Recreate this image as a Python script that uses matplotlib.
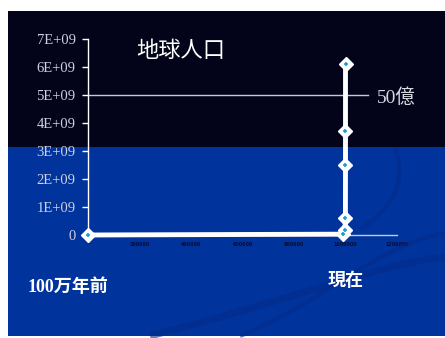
import matplotlib.pyplot as plt
from matplotlib.patches import Rectangle, PathPatch
from matplotlib.path import Path

# data: years since 1 million years ago vs. world population
years = [0, 990000, 998000, 999700, 999950, 999970, 1000000]
population = [0, 3e7, 1.8e8, 6e8, 2.5e9, 3.7e9, 6.1e9]
y_ticks = [0, 1e9, 2e9, 3e9, 4e9, 5e9, 6e9, 7e9]
y_labels = ['0', '1E+09', '2E+09', '3E+09', '4E+09', '5E+09', '6E+09', '7E+09']
x_ticks = [200000, 400000, 600000, 800000, 1000000, 1200000]
x_labels = ['200000', '400000', '600000', '800000', '1000000', '1200000']
ref_level = 5e9

cjk = ['Noto Sans CJK JP', 'DejaVu Sans']
serif_cjk = ['Liberation Serif', 'Noto Sans CJK JP']

fig = plt.figure(figsize=(4.45, 3.38), dpi=100)
fig.patch.set_facecolor('white')

# slide background
W, H = 445, 338
fig.add_artist(Rectangle((8 / W, 2 / H), 1 - 8 / W, (H - 147 - 2) / H, transform=fig.transFigure,
                         facecolor='#00339c', edgecolor='none', zorder=0))
fig.add_artist(Rectangle((8 / W, 1 - 147 / H), 1 - 8 / W, (147 - 11) / H, transform=fig.transFigure,
                         facecolor='#03031a', edgecolor='none', zorder=0))

# faint swooshes
for verts, lw in [([(150 / W, 2 / H), (300 / W, 0.12), (380 / W, 0.22), (445 / W, 0.24)], 5),
                  ([(360 / W, 0.32), (400 / W, 0.40), (405 / W, 0.48), (395 / W, 0.56)], 3),
                  ([(240 / W, 2 / H), (320 / W, 0.10), (380 / W, 0.28), (445 / W, 0.31)], 3)]:
    p = Path(verts, [Path.MOVETO, Path.CURVE4, Path.CURVE4, Path.CURVE4])
    fig.add_artist(PathPatch(p, transform=fig.transFigure, facecolor='none',
                             edgecolor='#022b88', lw=lw, alpha=0.6, zorder=0.5))

ax = fig.add_axes([88 / W, 1 - 235 / H, (397 - 88) / W, (235 - 39) / H])
ax.set_facecolor('none')
ax.set_xlim(0, 1200000)
ax.set_ylim(0, 7e9)

ax.axhline(ref_level, xmin=0, xmax=1087000 / 1200000, color='#c8c8d8', lw=1, zorder=1)

ax.plot(years, population, color='white', lw=3.5, marker='D', markersize=7,
        markerfacecolor='white', markeredgecolor='white', clip_on=False, zorder=3)
ax.plot(years, population, linestyle='none', marker='+', markersize=3,
        color='#1aa0d8', mew=1.2, clip_on=False, zorder=4)

ax.set_yticks(y_ticks)
ax.set_yticklabels(y_labels, fontfamily='Liberation Serif', fontsize=10.5, color='#d0d0e0')
ax.set_xticks(x_ticks)
ax.set_xticklabels(x_labels, fontsize=3.5, color='#0a0a30', fontweight='bold')
ax.tick_params(axis='y', length=4, width=1, color='white', pad=5)
ax.tick_params(axis='x', length=0, pad=5)

for s in ['top', 'right']:
    ax.spines[s].set_visible(False)
ax.spines['left'].set_color('white')
ax.spines['left'].set_linewidth(1)
ax.spines['bottom'].set_color('#c8c8d8')
ax.spines['bottom'].set_linewidth(1)

ax.text(1120000, ref_level - 1e8, '50億', family=serif_cjk, fontsize=14, color='#d8d8e0',
        va='center', ha='left', clip_on=False)

fig.text(181 / W, 1 - 50 / H, '地球人口', family=cjk, fontsize=16, color='white',
         ha='center', va='center')
fig.text(28 / W, 1 - 287 / H, '100万年前', family=serif_cjk, fontsize=13, color='white',
         fontweight='bold', ha='left', va='center')
fig.text(346 / W, 1 - 281 / H, '現在', family=cjk, fontsize=13, color='white',
         fontweight='bold', ha='center', va='center')

fig.savefig('out.png', dpi=100)
